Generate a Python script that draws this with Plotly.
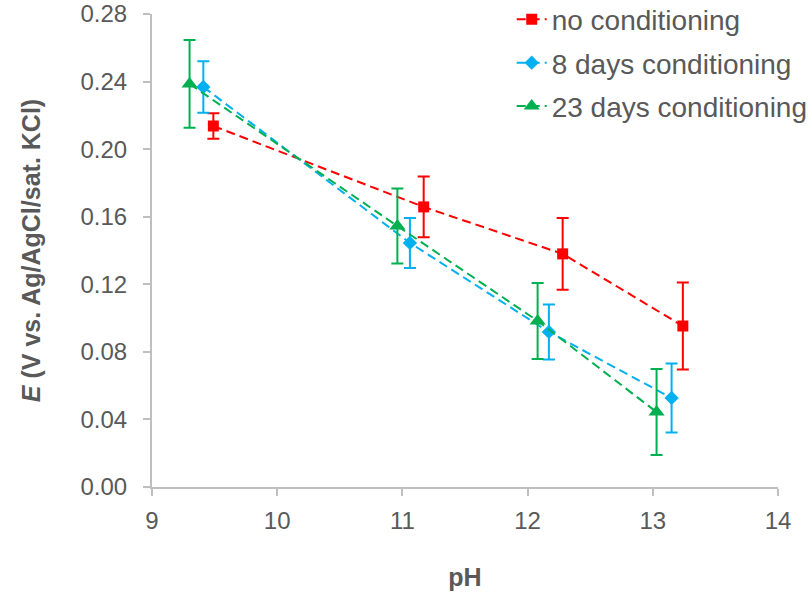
import plotly.graph_objects as go

names = ["no conditioning", "8 days conditioning", "23 days conditioning"]
colors = ["#FF0000", "#00B0F0", "#00B050"]
symbols = ["square", "diamond", "triangle-up"]
sizes = [11, 11, 14]

ph_no = [9.49, 11.17, 12.28, 13.24]
e_no = [0.2137, 0.1658, 0.1380, 0.0953]
err_no = [0.0075, 0.0180, 0.0212, 0.0258]

ph_8 = [9.41, 11.06, 12.17, 13.15]
e_8 = [0.2368, 0.1445, 0.0918, 0.0527]
err_8 = [0.0152, 0.0148, 0.0163, 0.0204]

ph_23 = [9.30, 10.96, 12.08, 13.03]
e_23 = [0.2386, 0.1545, 0.0983, 0.0444]
err_23 = [0.0260, 0.0222, 0.0225, 0.0255]

xs = [ph_no, ph_8, ph_23]
ys = [e_no, e_8, e_23]
errs = [err_no, err_8, err_23]

fig = go.Figure()
for i in range(3):
    fig.add_trace(go.Scatter(
        x=xs[i], y=ys[i], name=names[i], mode="lines+markers",
        legendgroup=str(i),
        line=dict(color=colors[i], width=2, dash="9px,5px"),
        marker=dict(symbol=symbols[i], size=sizes[i], color=colors[i]),
        error_y=dict(type="data", array=errs[i], visible=True, color=colors[i], thickness=2, width=6),
    ))

axis_color = "#BFBFBF"
text_color = "#595959"
font_family = "Liberation Sans, Arial, sans-serif"

fig.update_layout(
    width=812, height=599,
    margin=dict(l=152, r=34, t=14, b=112, autoexpand=False),
    paper_bgcolor="white", plot_bgcolor="white",
    font=dict(family=font_family, color=text_color, size=24),
    showlegend=True,
    legend=dict(
        x=0.5746, y=1.041, xanchor="left", yanchor="top",
        font=dict(size=28, color=text_color),
        bgcolor="rgba(0,0,0,0)", traceorder="grouped", tracegroupgap=4,
    ),
    xaxis=dict(
        range=[9, 14], dtick=1, tick0=9, showgrid=False, zeroline=False,
        showline=True, linecolor=axis_color, linewidth=2,
        ticks="outside", ticklen=7, tickcolor=axis_color, tickwidth=2,
        ticklabelstandoff=4,
        tickfont=dict(size=24, color=text_color),
        title=dict(text="<b>pH</b>", font=dict(size=25, color=text_color), standoff=36),
    ),
    yaxis=dict(
        range=[0, 0.28], dtick=0.04, tick0=0, tickformat=".2f", showgrid=False, zeroline=False,
        showline=True, linecolor=axis_color, linewidth=2,
        ticks="outside", ticklen=7, tickcolor=axis_color, tickwidth=2,
        ticklabelstandoff=11,
        tickfont=dict(size=24, color=text_color),
        title=dict(text="<b><i>E</i> (V vs. Ag/AgCl/sat. KCl)</b>", font=dict(size=25, color=text_color), standoff=33),
    ),
)

fig.write_html("out.html")
